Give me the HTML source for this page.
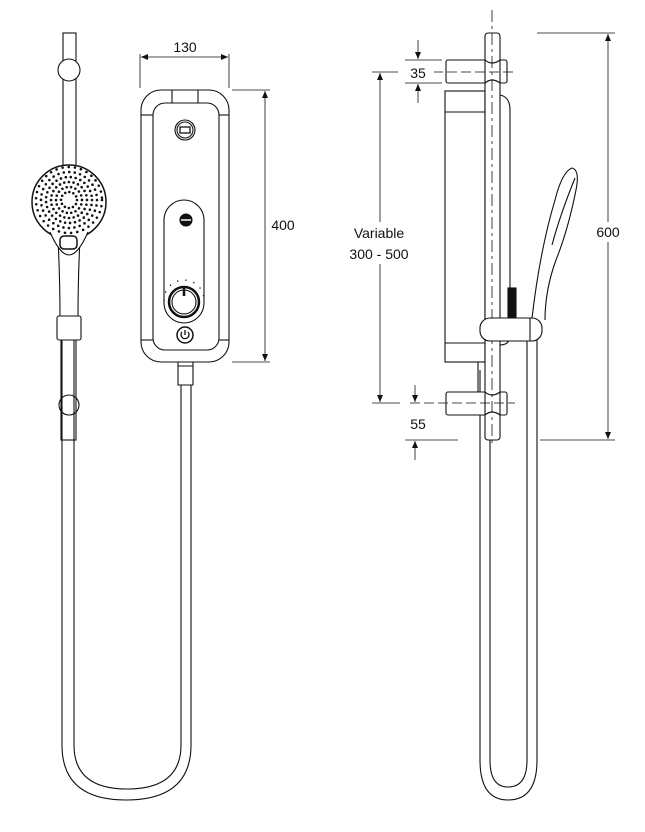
<!DOCTYPE html>
<html><head><meta charset="utf-8"><style>
html,body{margin:0;padding:0;background:#fff;}
svg{display:block;}
text{font-family:"Liberation Sans",Arial,sans-serif;font-size:14px;fill:#111;}
</style></head><body>
<svg width="645" height="832" viewBox="0 0 645 832" xmlns="http://www.w3.org/2000/svg">
<defs>
<marker id="a" markerWidth="8" markerHeight="8" refX="7" refY="3" orient="auto-start-reverse" markerUnits="userSpaceOnUse"><path d="M0,0 L7,3 L0,6z" fill="#111"/></marker>
</defs>
<g fill="none" stroke="#111" stroke-width="1.1">
<!-- LEFT: rail + hose -->
<rect x="63" y="33" width="13" height="150" fill="#fff"/>
<circle cx="69" cy="70" r="11" fill="#fff"/>
<path d="M62,340 V745 Q62,800 126,800 Q191,800 191,745 V370"/>
<path d="M74,340 V745 Q74,789 127,789 Q181,789 181,745 V370"/>
<circle cx="69" cy="405" r="10"/>
<rect x="61" y="330" width="15" height="110" fill="none"/>
<!-- handle -->
<path d="M58,238 Q60,280 60,318 H78 Q78,280 80,238" fill="#fff"/>
<rect x="57" y="316" width="24" height="24" rx="2" fill="#fff"/>
<circle cx="69" cy="202" r="37" fill="#fff" stroke-width="1.5"/>
<path d="M50,232 Q60,255 69,255 Q78,255 88,232" fill="#fff"/>
<rect x="60" y="236" width="17" height="13" rx="4" stroke-width="1.5"/>
</g>
<g fill="none" stroke="#111" stroke-linecap="round" stroke-width="2.6">
<circle cx="69" cy="200" r="8" stroke-dasharray="0 4.2"/>
<circle cx="69" cy="200" r="13" stroke-dasharray="0 4.5"/>
<circle cx="69" cy="200" r="18" stroke-dasharray="0 4.7"/>
<circle cx="69" cy="200" r="23" stroke-dasharray="0 5"/>
<circle cx="69" cy="200" r="28" stroke-dasharray="0 5.5"/>
<circle cx="69" cy="200" r="33" stroke-dasharray="0 6.2"/>
</g>
<g fill="none" stroke="#111" stroke-width="1.1">
<!-- FRONT UNIT -->
<rect x="141" y="90" width="88" height="272" rx="20" fill="#fff"/>
<rect x="153" y="103" width="66" height="247" rx="12"/>
<line x1="141" y1="115" x2="153" y2="115"/><line x1="219" y1="115" x2="229" y2="115"/>
<line x1="141" y1="340" x2="153" y2="340"/><line x1="219" y1="340" x2="229" y2="340"/>
<line x1="172" y1="90" x2="172" y2="103"/><line x1="198" y1="90" x2="198" y2="103"/>
<circle cx="185" cy="130" r="10"/><circle cx="185" cy="130" r="8"/>
<rect x="180" y="127" width="10" height="6" stroke-width="1.3"/>
<rect x="164" y="200" width="40" height="123" rx="20"/>
<circle cx="186" cy="220" r="6" fill="#111"/>
<line x1="181" y1="220" x2="191" y2="220" stroke="#fff" stroke-width="1.5"/>
<circle cx="184" cy="302" r="15" stroke-width="2.5"/>
<circle cx="184" cy="302" r="12"/>
<line x1="184" y1="287" x2="184" y2="296" stroke-width="2.5"/>
<circle cx="184" cy="300" r="20" stroke-linecap="round" stroke-width="1.5" transform="rotate(-180 184 300)" pathLength="60" style="stroke-dasharray:0 4 0 4 0 4 0 4 0 4 0 4 0 4 0 100"/>
<circle cx="185" cy="335" r="8" stroke-width="1.5"/>
<path d="M182,332 A4,4 0 1 0 188,332 M185,330 V335" stroke-width="1.3"/>
<path d="M178,362 H193 V385 H178 Z M178,366 H193" fill="#fff"/>
<!-- dim 130 -->
<line x1="140" y1="54" x2="140" y2="88" stroke-width=".8"/>
<line x1="229" y1="54" x2="229" y2="88" stroke-width=".8"/>
<line x1="141" y1="57" x2="228" y2="57" stroke-width=".8" marker-end="url(#a)" marker-start="url(#a)"/>
<!-- dim 400 -->
<line x1="232" y1="90" x2="270" y2="90" stroke-width=".8"/>
<line x1="232" y1="362" x2="270" y2="362" stroke-width=".8"/>
<line x1="265" y1="91" x2="265" y2="361" stroke-width=".8" marker-end="url(#a)" marker-start="url(#a)"/>

<!-- SIDE VIEW -->
<path d="M480,370 V760 Q480,800 508,800 Q537,800 537,760 V340" fill="none"/>
<path d="M490,410 V760 Q490,787 508,787 Q527,787 527,760 V340" fill="none"/>
<rect x="445" y="91" width="40" height="271" fill="#fff"/>
<line x1="445" y1="112" x2="485" y2="112"/><line x1="445" y1="343" x2="485" y2="343"/>
<path d="M500,95 Q510,97 510,110 V335 Q510,345 500,345"/>
<path d="M478,362 H486 V398 H478 Z"/>
<rect x="446" y="60" width="61" height="23" rx="2" fill="#fff"/>
<rect x="446" y="392" width="61" height="23" rx="2" fill="#fff"/>
<rect x="485" y="33" width="15" height="407" rx="3" fill="#fff"/>
<path d="M485,60 Q492,66 500,60 M485,83 Q492,77 500,83 M485,392 Q492,398 500,392 M485,415 Q492,409 500,415"/>
<line x1="492" y1="10" x2="492" y2="445" stroke-width=".8" stroke-dasharray="12 4 3 4"/>
<rect x="508" y="288" width="8" height="30" fill="#111"/>
<path d="M532,318 Q540,250 555,200 Q562,172 572,168 Q580,170 576,190 Q568,230 556,260 Q545,290 545,320" fill="#fff"/>
<path d="M552,245 Q560,215 575,178" />
<rect x="480" y="318" width="62" height="23" rx="10" fill="#fff"/>
<line x1="530" y1="318" x2="530" y2="341"/>
<!-- dim 35 -->
<line x1="405" y1="60" x2="442" y2="60" stroke-width=".8"/>
<line x1="405" y1="83" x2="442" y2="83" stroke-width=".8"/>
<line x1="418" y1="40" x2="418" y2="59" stroke-width=".8" marker-end="url(#a)"/>
<line x1="418" y1="103" x2="418" y2="84" stroke-width=".8" marker-end="url(#a)"/>
<line x1="372" y1="72" x2="400" y2="72" stroke-width=".8"/>
<line x1="433" y1="72" x2="515" y2="72" stroke-width=".8" stroke-dasharray="10 4"/>
<!-- dim variable -->
<line x1="380" y1="73" x2="380" y2="402" stroke-width=".8" marker-end="url(#a)" marker-start="url(#a)"/>
<line x1="372" y1="403" x2="400" y2="403" stroke-width=".8"/>
<line x1="410" y1="403" x2="515" y2="403" stroke-width=".8" stroke-dasharray="10 4"/>
<!-- dim 55 -->
<line x1="415" y1="385" x2="415" y2="402" stroke-width=".8" marker-end="url(#a)"/>
<line x1="405" y1="440" x2="458" y2="440" stroke-width=".8"/>
<line x1="415" y1="460" x2="415" y2="441" stroke-width=".8" marker-end="url(#a)"/>
<!-- dim 600 -->
<line x1="537" y1="33" x2="615" y2="33" stroke-width=".8"/>
<line x1="540" y1="440" x2="615" y2="440" stroke-width=".8"/>
<line x1="608" y1="34" x2="608" y2="439" stroke-width=".8" marker-end="url(#a)" marker-start="url(#a)"/>
</g>
<rect x="398" y="64" width="36" height="18" fill="#fff"/>
<rect x="590" y="222" width="36" height="20" fill="#fff"/>
<rect x="335" y="222" width="90" height="42" fill="#fff"/>
<text x="185" y="52" text-anchor="middle">130</text>
<text x="283" y="230" text-anchor="middle">400</text>
<text x="418" y="78" text-anchor="middle">35</text>
<text x="418" y="429" text-anchor="middle">55</text>
<text x="379" y="238" text-anchor="middle">Variable</text>
<text x="379" y="259" text-anchor="middle">300 - 500</text>
<text x="608" y="237" text-anchor="middle">600</text>
</svg>
</body></html>
